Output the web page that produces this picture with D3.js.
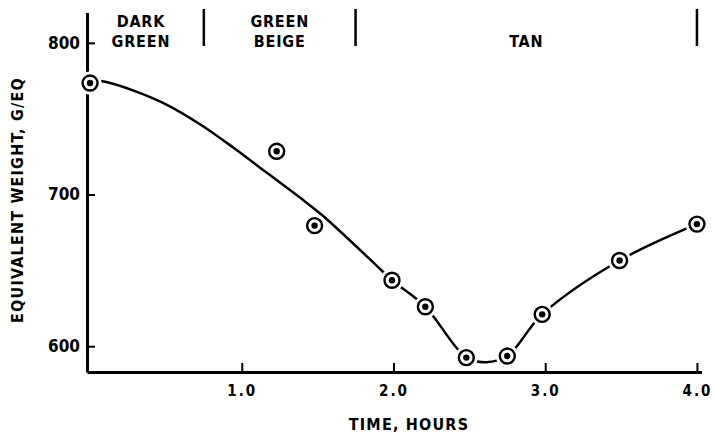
<!DOCTYPE html>
<html>
<head>
<meta charset="utf-8">
<script src="https://cdn.jsdelivr.net/npm/d3@7"></script>
<style>
  body { margin: 0; background: #fff; }
  text { font-family: "DejaVu Sans Condensed", "Liberation Sans Narrow", "DejaVu Sans", sans-serif; font-weight: bold; fill: #000; }
</style>
</head>
<body>
<div id="chart"></div>
<script>
var width = 715;
var height = 433;

// measured points
var timeHours = [0.0, 1.23, 1.48, 1.99, 2.21, 2.48, 2.75, 2.98, 3.49, 4.0];
var eqWeight = [773.5, 728.5, 679.5, 643.5, 626, 592.5, 593.5, 621, 656.5, 680.5];

// hand drawn curve through the data
var curveTime = [0, 0.1, 0.3, 0.51, 0.73, 0.95, 1.17, 1.39, 1.54, 1.89, 1.99, 2.21, 2.48, 2.61, 2.75, 2.98, 3.49, 4.0];
var curveWeight = [775.5, 774.3, 768, 759, 746, 730.5, 714, 697.5, 685.5, 653, 643.5, 626, 592.5, 589.5, 593.5, 621, 656.5, 680.5];

// colour zones along the top
var zoneNames = [["DARK", "GREEN"], ["GREEN", "BEIGE"], ["", "TAN"]];
var zoneBounds = [0, 0.75, 1.75, 4.0];

var xTicks = [1, 2, 3, 4];
var yTicks = [600, 700, 800];

var svg = d3.select("#chart")
            .append("svg")
            .attr("width", width)
            .attr("height", height);

var x = d3.scaleLinear()
          .domain([-0.02, 4.03])
          .range([87, 701.5]);

var y = d3.scaleLinear()
          .domain([583, 820])
          .range([372, 12.5]);

var xAxis = d3.axisBottom(x)
              .tickValues(xTicks)
              .tickFormat(d3.format(".1f"))
              .tickSizeInner(-9)
              .tickSizeOuter(0)
              .tickPadding(13);

var yAxis = d3.axisLeft(y)
              .tickValues(yTicks)
              .tickSizeInner(-8)
              .tickSizeOuter(0)
              .tickPadding(7);

var gx = svg.append("g")
    .attr("transform", "translate(0," + y(583) + ")")
    .call(xAxis);
gx.select(".domain").attr("stroke-width", 3);
gx.selectAll(".tick line").attr("stroke-width", 2);
gx.selectAll(".tick text")
    .attr("font-size", 15)
    .attr("letter-spacing", 2);

var gy = svg.append("g")
    .attr("transform", "translate(" + x(-0.02) + ",0)")
    .call(yAxis);
gy.select(".domain").attr("stroke-width", 3);
gy.selectAll(".tick line").attr("stroke-width", 2);
gy.selectAll(".tick text")
    .attr("font-size", 17);

// zone separators
svg.selectAll(".sep")
   .data(zoneBounds.slice(1))
   .enter()
     .append("line")
     .attr("class", "sep")
     .attr("x1", function(d){ return x(d); })
     .attr("x2", function(d){ return x(d); })
     .attr("y1", 9)
     .attr("y2", 46)
     .attr("stroke", "#000")
     .attr("stroke-width", 2.5);

function zoneX(d, i) {
  return x((zoneBounds[i] + zoneBounds[i + 1]) / 2) - (i == 0 ? 6 : 0);
}

var zone = svg.selectAll(".zone")
   .data(zoneNames)
   .enter()
     .append("text")
     .attr("class", "zone")
     .attr("text-anchor", "middle")
     .attr("font-size", 16)
     .attr("letter-spacing", 0.8);
zone.append("tspan")
    .attr("x", zoneX)
    .attr("y", 27)
    .text(function(d){ return d[0]; });
zone.append("tspan")
    .attr("x", zoneX)
    .attr("y", 47)
    .text(function(d){ return d[1]; });

var curveData = curveTime.map(function(t, i){ return {x: t, y: curveWeight[i]}; });

var line = d3.line()
            .x(function(d){ return x(d.x); })
            .y(function(d){ return y(d.y); })
            .curve(d3.curveCatmullRom.alpha(0.5));

svg.append("path")
   .datum(curveData)
   .attr("d", line)
   .attr("fill", "none")
   .attr("stroke", "#000")
   .attr("stroke-width", 2.5);

var points = timeHours.map(function(t, i){ return {x: t, y: eqWeight[i]}; });

var marks = svg.selectAll(".pt")
   .data(points)
   .enter()
     .append("g")
     .attr("class", "pt")
     .attr("transform", function(d){ return "translate(" + x(d.x) + "," + y(d.y) + ")"; });
marks.append("circle").attr("r", 11.5).attr("fill", "#fff");
marks.append("circle").attr("r", 7.5).attr("fill", "#fff").attr("stroke", "#000").attr("stroke-width", 2.4);
marks.append("circle").attr("r", 3.2).attr("fill", "#000");

// axis titles
svg.append("text")
   .attr("x", 409)
   .attr("y", 430)
   .attr("text-anchor", "middle")
   .attr("font-size", 16)
   .attr("letter-spacing", 1.2)
   .text("TIME, HOURS");

svg.append("text")
   .attr("transform", "translate(23,200) rotate(-90)")
   .attr("text-anchor", "middle")
   .attr("font-size", 16)
   .attr("letter-spacing", 1.2)
   .text("EQUIVALENT WEIGHT, G/EQ");
</script>
</body>
</html>
